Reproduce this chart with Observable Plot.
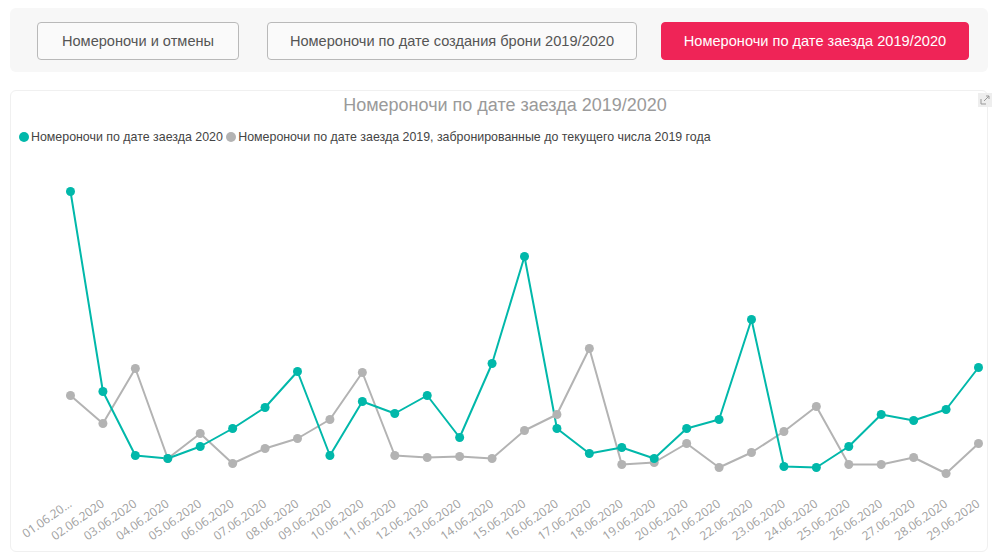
<!DOCTYPE html>
<html><head><meta charset="utf-8">
<script src="https://cdn.jsdelivr.net/npm/d3@7"></script>
<script src="https://cdn.jsdelivr.net/npm/@observablehq/plot@0.6"></script>
<style>
html,body{margin:0;padding:0;background:#fff;width:993px;height:555px;overflow:hidden;font-family:"Liberation Sans",Arial,sans-serif;}
#top{position:absolute;left:10px;top:8px;width:978px;height:64px;background:#f7f7f7;border-radius:6px;}
.btn{position:absolute;top:22px;height:38px;box-sizing:border-box;border:1px solid #b9b9b9;border-radius:4px;background:#fafafa;color:#555;font-size:14.6px;line-height:36px;text-align:center;}
#card{position:absolute;left:10px;top:90px;width:978px;height:462px;background:#fff;border:1px solid #f0f0f0;border-radius:6px;box-sizing:border-box;}
#title{position:absolute;left:10px;width:990px;top:95px;text-align:center;color:#9a9a9a;font-size:18px;}
#legend{position:absolute;left:19px;top:130px;font-size:12.4px;color:#444;white-space:nowrap;}
#legend span.dot{display:inline-block;width:10px;height:10px;border-radius:50%;vertical-align:-1px;margin-right:2px;}
#expand{position:absolute;left:978px;top:93px;width:14px;height:14px;background:#eee;}
#chart{position:absolute;left:0;top:160px;}
</style></head>
<body>
<div id="top"></div>
<div class="btn" style="left:37px;width:202px;">Номероночи и отмены</div>
<div class="btn" style="left:267px;width:370px;">Номероночи по дате создания брони 2019/2020</div>
<div class="btn" style="left:661px;width:308px;background:#ef2457;border-color:#ef2457;color:#fff;">Номероночи по дате заезда 2019/2020</div>
<div id="card"></div>
<div id="title">Номероночи по дате заезда 2019/2020</div>
<div id="expand"><svg width="14" height="14"><path d="M3 6V11H8M6 8L11 3M8 3H11V6" fill="none" stroke="#999" stroke-width="1"/></svg></div>
<div id="legend"><span class="dot" style="background:#01b8aa"></span>Номероночи по дате заезда 2020 <span class="dot" style="background:#b3b3b3"></span>Номероночи по дате заезда 2019, забронированные до текущего числа 2019 года</div>
<div id="chart"></div>
<script>
const dates = ["01.06.2020","02.06.2020","03.06.2020","04.06.2020","05.06.2020","06.06.2020","07.06.2020","08.06.2020","09.06.2020","10.06.2020","11.06.2020","12.06.2020","13.06.2020","14.06.2020","15.06.2020","16.06.2020","17.06.2020","18.06.2020","19.06.2020","20.06.2020","21.06.2020","22.06.2020","23.06.2020","24.06.2020","25.06.2020","26.06.2020","27.06.2020","28.06.2020","29.06.2020"];
const tickLabels = ["01.06.20...","02.06.2020","03.06.2020","04.06.2020","05.06.2020","06.06.2020","07.06.2020","08.06.2020","09.06.2020","10.06.2020","11.06.2020","12.06.2020","13.06.2020","14.06.2020","15.06.2020","16.06.2020","17.06.2020","18.06.2020","19.06.2020","20.06.2020","21.06.2020","22.06.2020","23.06.2020","24.06.2020","25.06.2020","26.06.2020","27.06.2020","28.06.2020","29.06.2020"];
const series2020 = [309,109,45,42,54,72,93,129,45,99,87,105,63,137,244,72,47,53,42,72,81,181,34,33,54,86,80,91,133];
const series2019 = [105,77,132,42,67,37,52,62,81,128,45,43,44,42,70,86,152,36,38,57,33,48,69,94,36,36,43,27,57];
const name2020 = "Номероночи по дате заезда 2020";
const name2019 = "Номероночи по дате заезда 2019, забронированные до текущего числа 2019 года";

const rows = [];
dates.forEach((d,i)=>{
  rows.push({date:d, value:series2019[i], s:name2019});
  rows.push({date:d, value:series2020[i], s:name2020});
});
const labelOf = new Map(dates.map((d,i)=>[d,tickLabels[i]]));

const chart = Plot.plot({
  width: 993,
  height: 395,
  marginLeft: 70,
  marginRight: 15,
  marginTop: 10,
  marginBottom: 55,
  style: {background:"transparent", fontFamily:"'Open Sans', sans-serif", fontSize:"12px", color:"#a0a0a0"},
  x: {type:"point", domain: dates, padding: 0, round: false, label: null, tickSize: 0, tickPadding: 2, tickRotate: -35, tickFormat: d => labelOf.get(d)},
  y: {domain: [0, 330], axis: null},
  color: {domain:[name2020, name2019], range:["#01b8aa","#b3b3b3"]},
  marks: [
    Plot.line(rows.filter(r=>r.s===name2019), {x:"date", y:"value", stroke:"s", strokeWidth:2}),
    Plot.line(rows.filter(r=>r.s===name2020), {x:"date", y:"value", stroke:"s", strokeWidth:2}),
    Plot.dot(rows.filter(r=>r.s===name2019), {x:"date", y:"value", fill:"s", r:4.5}),
    Plot.dot(rows.filter(r=>r.s===name2020), {x:"date", y:"value", fill:"s", r:4.5})
  ]
});
document.getElementById("chart").appendChild(chart);
</script>
</body></html>
